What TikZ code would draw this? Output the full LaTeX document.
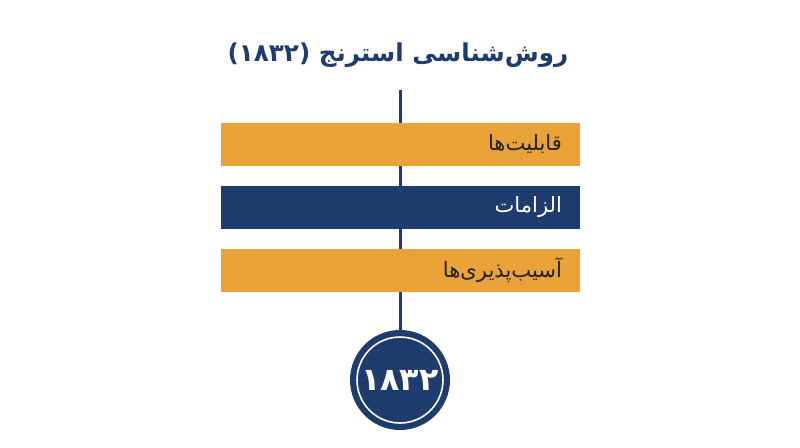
\documentclass[tikz,border=0pt]{standalone}
\usepackage{fontspec}
\usepackage{tikz}
\TeXXeTstate=1
\newfontfamily\farsi[Script=Arabic]{DejaVu Sans}
\definecolor{navy}{HTML}{1F3C6E}
\definecolor{amber}{HTML}{E9A238}
\definecolor{ink}{HTML}{222222}

\begin{document}
\begin{tikzpicture}[x=0.02cm,y=0.02cm,
  bar/.style={rectangle, minimum width=7.18cm, minimum height=0.86cm, text width=6.46cm,
    inner xsep=0.36cm, align=right, font=\farsi\fontsize{12}{14}\selectfont},
  disc/.style={circle, fill=navy, minimum size=2cm, text=white,
    font=\farsi\bfseries\fontsize{18}{20}\selectfont}]
  \fill[white] (0,0) rectangle (800,447);
  \useasboundingbox (0,0) rectangle (800,447);
  \node [text=navy, font=\farsi\bfseries\fontsize{14}{16}\selectfont] (title) at (398,392)
    {\beginR روش‌شناسی استرنج (۱۸۳۲)\endR};
  \node [disc] (year) at (400,67) {\beginR ۱۸۳۲\endR};
  \draw [white, line width=0.9pt] (year.center) circle (0.86cm);
  \coordinate (top) at (400,357);
  \draw [navy, line width=1.7pt] (top) -- (year.north);
  \node [bar, fill=amber, text=ink] (cap) at (400.5,302.5) {\beginR قابلیت‌ها\endR};
  \node [bar, fill=navy, text=white] (req) at (400.5,239.5) {\beginR الزامات\endR};
  \node [bar, fill=amber, text=ink] (vul) at (400.5,177) {\beginR آسیب‌پذیری‌ها\endR};
\end{tikzpicture}
\end{document}
